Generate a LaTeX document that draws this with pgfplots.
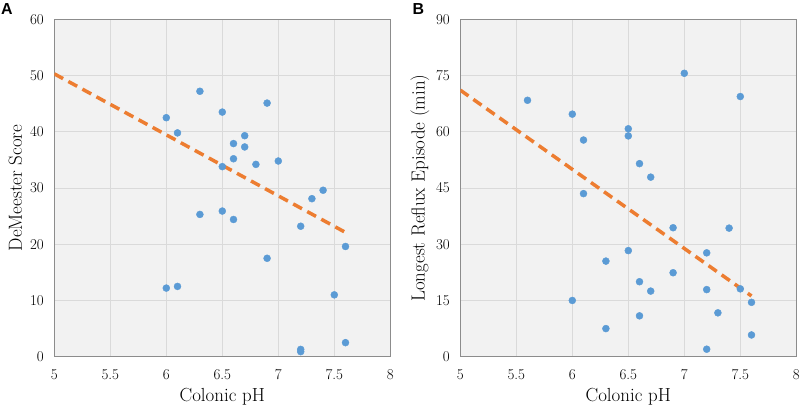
\documentclass[border=0pt]{standalone}
\usepackage{pgfplots}
\pgfplotsset{compat=1.18}
\usepackage{fontspec}
\newfontfamily\panelfont{Liberation Sans}

\definecolor{dotblue}{HTML}{5B9BD5}
\definecolor{trendorange}{HTML}{ED7D31}
\definecolor{plotbg}{HTML}{F2F2F2}
\definecolor{gridgray}{HTML}{DADADA}
\definecolor{framegray}{HTML}{8C8C8C}

\pgfplotsset{
  panel/.style={
    scale only axis,
    width=336bp, height=337.4bp,
    anchor=south west,
    xmin=5, xmax=8,
    xtick={5,5.5,6,6.5,7,7.5,8},
    axis background/.style={fill=plotbg},
    grid=major,
    major grid style={gridgray, line width=0.6bp},
    axis line style={framegray, line width=0.9bp},
    major tick length=0pt,
    tick label style={font=\fontsize{15}{17}\selectfont},
    label style={font=\fontsize{19}{22}\selectfont},
    yticklabel style={xshift=-7bp},
    xticklabel style={yshift=-9bp},
    xlabel style={at={(axis description cs:0.5,-0.1186)}, anchor=center},
    /pgf/number format/assume math mode=true,
    xlabel={Colonic pH},
  },
  dots/.style={only marks, mark=*, mark size=3.5bp, color=dotblue},
  trend/.style={trendorange, line width=3.5bp, dash pattern=on 10bp off 6bp},
}

\begin{document}
\begin{tikzpicture}
\useasboundingbox (0,0) rectangle (800bp,407bp);

% panel A
\begin{axis}[panel,
    at={(54.3bp,50.3bp)},
    ymin=0, ymax=60, ytick={0,10,20,30,40,50,60},
    ylabel={DeMeester Score},
    ylabel style={at={(axis description cs:-0.116,0.5)}, anchor=center},
  ]
  \addplot[dots] coordinates {
    (6.0,42.5) (6.1,39.8) (6.3,47.2) (6.5,43.5) (6.9,45.1) (6.7,39.3)
    (6.6,37.9) (6.7,37.3) (6.6,35.2) (6.5,33.8) (6.8,34.2) (7.0,34.8)
    (7.4,29.6) (7.3,28.1) (6.3,25.3) (6.5,25.9) (6.6,24.4) (7.2,23.2)
    (7.6,19.6) (6.9,17.5) (7.5,11.0) (7.6,2.5) (7.2,1.3) (7.2,0.9)
    (6.0,12.2) (6.1,12.5)
  };
  \addplot[trend] coordinates {(5,50.3) (7.6,22.1)};
\end{axis}

% panel B
\begin{axis}[panel,
    at={(460.3bp,50.3bp)},
    ymin=0, ymax=90, ytick={0,15,30,45,60,75,90},
    ylabel={Longest Reflux Episode (min)},
    ylabel style={at={(axis description cs:-0.12,0.5)}, anchor=center},
  ]
  \addplot[dots] coordinates {
    (5.6,68.4) (6.0,64.7) (6.1,57.8) (6.1,43.5) (7.0,75.6) (7.5,69.4)
    (6.5,60.8) (6.5,58.9) (6.6,51.5) (6.7,47.9) (6.3,25.5) (6.0,15.0)
    (6.3,7.5) (6.9,34.4) (7.4,34.3) (6.5,28.3) (7.2,27.7) (6.9,22.4)
    (6.6,20.0) (6.7,17.5) (7.2,17.9) (7.5,18.1) (7.6,14.5) (7.3,11.7)
    (6.6,10.9) (7.6,5.8) (7.2,2.0)
  };
  \addplot[trend] coordinates {(5,71.1) (7.6,16.2)};
\end{axis}

\node[anchor=north west, inner sep=0pt, font=\panelfont\bfseries\fontsize{16}{16}\selectfont] at (1bp,404bp) {A};
\node[anchor=north west, inner sep=0pt, font=\panelfont\bfseries\fontsize{16}{16}\selectfont] at (412.5bp,404bp) {B};
\end{tikzpicture}
\end{document}
